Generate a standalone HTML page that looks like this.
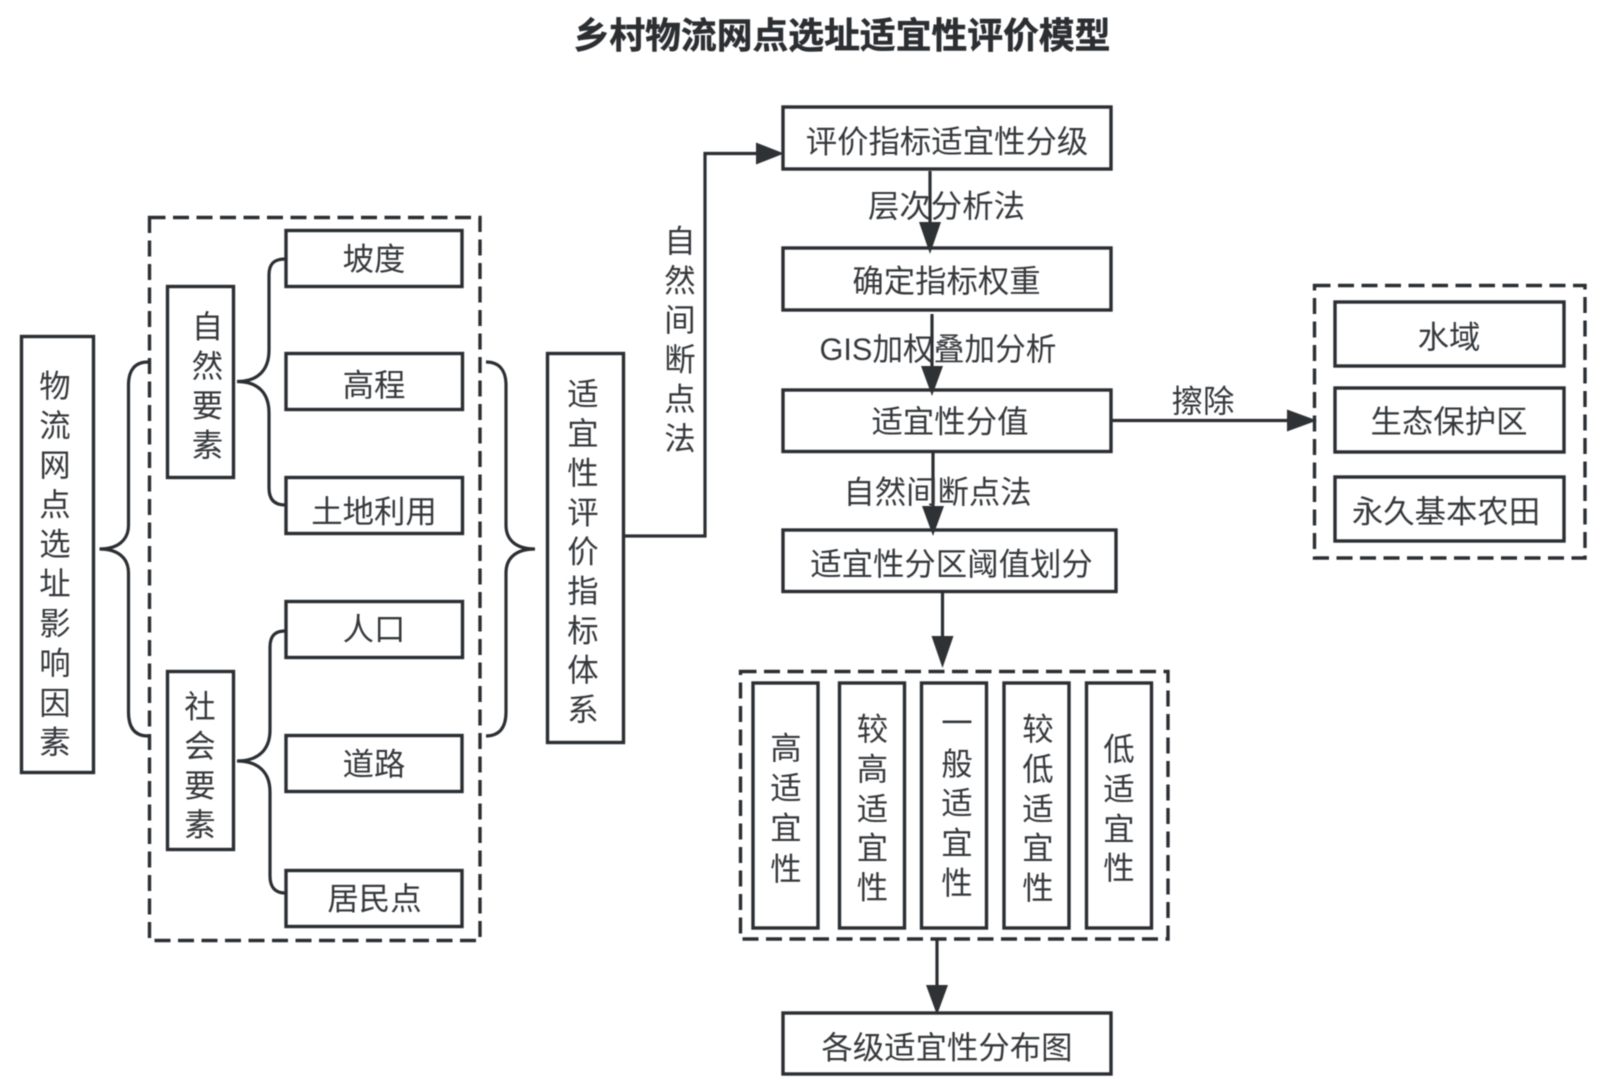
<!DOCTYPE html>
<html lang="zh">
<head>
<meta charset="utf-8">
<title>乡村物流网点选址适宜性评价模型</title>
<style>
html,body{margin:0;padding:0;background:#fff;width:1600px;height:1086px;overflow:hidden}
svg{display:block;filter:blur(.5px)}
text{font-family:"Liberation Sans","Noto Sans CJK SC",sans-serif;font-size:31.4px;fill:#36393c;text-anchor:middle}
.t{font-size:35.8px;font-weight:700;fill:#2c2f32;stroke:#2c2f32;stroke-width:.5}
.b{fill:#fff;stroke:#2b2f33;stroke-width:3.4}
.d{fill:none;stroke:#2b2f33;stroke-width:3.4;stroke-dasharray:16 7.5}
.l{fill:none;stroke:#2b2f33;stroke-width:3.2}
.a{fill:#2f3235;stroke:none}
</style>
</head>
<body>
<svg xmlns="http://www.w3.org/2000/svg" width="1600" height="1086" viewBox="0 0 1600 1086">
<text class="t" x="842" y="48">乡村物流网点选址适宜性评价模型</text>

<!-- dashed groups -->
<rect class="d" x="149.500" y="217.500" width="330.500" height="723"/>
<rect class="d" x="740.500" y="671.500" width="427.500" height="267.500"/>
<rect class="d" x="1314.500" y="285.500" width="270.500" height="272.500"/>

<!-- braces -->
<path class="l" d="M148 362C135 362 128.500 370 128.500 385L128.500 525C128.500 540 118 549 99.500 549C118 549 128.500 558 128.500 573L128.500 712C128.500 728 135 736 148 736"/>
<path class="l" d="M285 259C275 259 269 263 269 275L269 350C269 370 258 381.500 237 381.500C258 381.500 269 393 269 413L269 488C269 500 275 505 285 505"/>
<path class="l" d="M285 631C276 631 270 635 270 647L270 730C270 750 258 761 237 761C258 761 270 772 270 792L270 876C270 888 276 893 285 893"/>
<path class="l" d="M486 362C499 362 506 370 506 385L506 525C506 540 516 549 535 549C516 549 506 558 506 573L506 712C506 728 499 736 486 736"/>

<!-- left boxes -->
<rect class="b" x="21.500" y="336.500" width="72" height="436"/>
<rect class="b" x="167.500" y="286.500" width="66" height="191"/>
<rect class="b" x="167.500" y="671.500" width="66" height="178"/>
<rect class="b" x="286" y="230.500" width="176" height="56"/>
<rect class="b" x="286" y="353.500" width="176.500" height="56"/>
<rect class="b" x="286" y="477.500" width="176.500" height="56"/>
<rect class="b" x="286" y="601.500" width="176.500" height="56"/>
<rect class="b" x="286" y="735.500" width="176" height="56"/>
<rect class="b" x="286" y="870.500" width="176" height="56"/>
<rect class="b" x="547.500" y="353.500" width="76" height="389"/>

<!-- center boxes -->
<rect class="b" x="783" y="107" width="328" height="62"/>
<rect class="b" x="783" y="248" width="328" height="62"/>
<rect class="b" x="783" y="390" width="328" height="61.500"/>
<rect class="b" x="783" y="530" width="333" height="61.500"/>
<rect class="b" x="783" y="1013" width="328" height="61"/>

<!-- level boxes -->
<rect class="b" x="753" y="683" width="65" height="245"/>
<rect class="b" x="839.500" y="683" width="65" height="245"/>
<rect class="b" x="921.500" y="683" width="65" height="245"/>
<rect class="b" x="1004" y="683" width="65" height="245"/>
<rect class="b" x="1086.500" y="683" width="65" height="245"/>

<!-- right boxes -->
<rect class="b" x="1335" y="302" width="229" height="64"/>
<rect class="b" x="1335" y="388" width="229" height="64"/>
<rect class="b" x="1335" y="477" width="229" height="64"/>

<!-- connectors -->
<path class="l" d="M625 536H705V153.500H760"/>
<polygon class="a" points="784,153.500 756,142.500 756,164.500"/>
<path class="l" d="M1111 420.500H1290"/>
<polygon class="a" points="1317,420.500 1287,409.500 1287,431.500"/>
<path class="l" d="M930 171V226"/>
<polygon class="a" points="930,254 919,222 941,222"/>
<path class="l" d="M932 314V370"/>
<polygon class="a" points="932,396 921,366 943,366"/>
<path class="l" d="M933 450V510"/>
<polygon class="a" points="933,536 922,506 944,506"/>
<path class="l" d="M942.500 592V640"/>
<polygon class="a" points="942.500,668 931.500,636 953.500,636"/>
<path class="l" d="M937 940V990"/>
<polygon class="a" points="937,1015 926,985 948,985"/>

<!-- horizontal labels -->
<text x="374" y="270">坡度</text>
<text x="374" y="396">高程</text>
<text x="374" y="522.500">土地利用</text>
<text x="374" y="640">人口</text>
<text x="374" y="775">道路</text>
<text x="374.500" y="909.500">居民点</text>
<text x="947" y="152.500">评价指标适宜性分级</text>
<text x="946.500" y="217">层次分析法</text>
<text x="946.500" y="292">确定指标权重</text>
<text x="938" y="360" textLength="237" lengthAdjust="spacingAndGlyphs">GIS加权叠加分析</text>
<text x="950" y="432.500">适宜性分值</text>
<text x="937.500" y="503">自然间断点法</text>
<text x="951.500" y="575">适宜性分区阈值划分</text>
<text x="947" y="1058.500">各级适宜性分布图</text>
<text x="1203" y="412">擦除</text>
<text x="1449" y="348">水域</text>
<text x="1449" y="432.500">生态保护区</text>
<text x="1446" y="522.500">永久基本农田</text>

<!-- vertical labels -->
<text x="55"><tspan x="55" y="397">物</tspan><tspan x="55" y="436.500">流</tspan><tspan x="55" y="476">网</tspan><tspan x="55" y="515.500">点</tspan><tspan x="55" y="555">选</tspan><tspan x="55" y="594.500">址</tspan><tspan x="55" y="634.500">影</tspan><tspan x="55" y="674">响</tspan><tspan x="55" y="714">因</tspan><tspan x="55" y="753">素</tspan></text>
<text x="207.500"><tspan x="207.500" y="337.500">自</tspan><tspan x="207.500" y="377">然</tspan><tspan x="207.500" y="416.500">要</tspan><tspan x="207.500" y="456">素</tspan></text>
<text x="200"><tspan x="200" y="717.500">社</tspan><tspan x="200" y="757">会</tspan><tspan x="200" y="796.500">要</tspan><tspan x="200" y="835.500">素</tspan></text>
<text x="583"><tspan x="583" y="405">适</tspan><tspan x="583" y="444.500">宜</tspan><tspan x="583" y="484">性</tspan><tspan x="583" y="523.500">评</tspan><tspan x="583" y="562.500">价</tspan><tspan x="583" y="602">指</tspan><tspan x="583" y="641.500">标</tspan><tspan x="583" y="681">体</tspan><tspan x="583" y="720.500">系</tspan></text>
<text x="680"><tspan x="680" y="252">自</tspan><tspan x="680" y="291.500">然</tspan><tspan x="680" y="331">间</tspan><tspan x="680" y="370.500">断</tspan><tspan x="680" y="410">点</tspan><tspan x="680" y="449.500">法</tspan></text>
<text x="786"><tspan x="786" y="759">高</tspan><tspan x="786" y="799">适</tspan><tspan x="786" y="839">宜</tspan><tspan x="786" y="880">性</tspan></text>
<text x="872.500"><tspan x="872.500" y="740">较</tspan><tspan x="872.500" y="780">高</tspan><tspan x="872.500" y="820">适</tspan><tspan x="872.500" y="859">宜</tspan><tspan x="872.500" y="898.500">性</tspan></text>
<text x="957"><tspan x="957" y="734">一</tspan><tspan x="957" y="775">般</tspan><tspan x="957" y="814">适</tspan><tspan x="957" y="854">宜</tspan><tspan x="957" y="894">性</tspan></text>
<text x="1038"><tspan x="1038" y="740">较</tspan><tspan x="1038" y="780">低</tspan><tspan x="1038" y="820">适</tspan><tspan x="1038" y="859">宜</tspan><tspan x="1038" y="899">性</tspan></text>
<text x="1119"><tspan x="1119" y="760">低</tspan><tspan x="1119" y="800">适</tspan><tspan x="1119" y="840">宜</tspan><tspan x="1119" y="879">性</tspan></text>
</svg>
</body>
</html>
